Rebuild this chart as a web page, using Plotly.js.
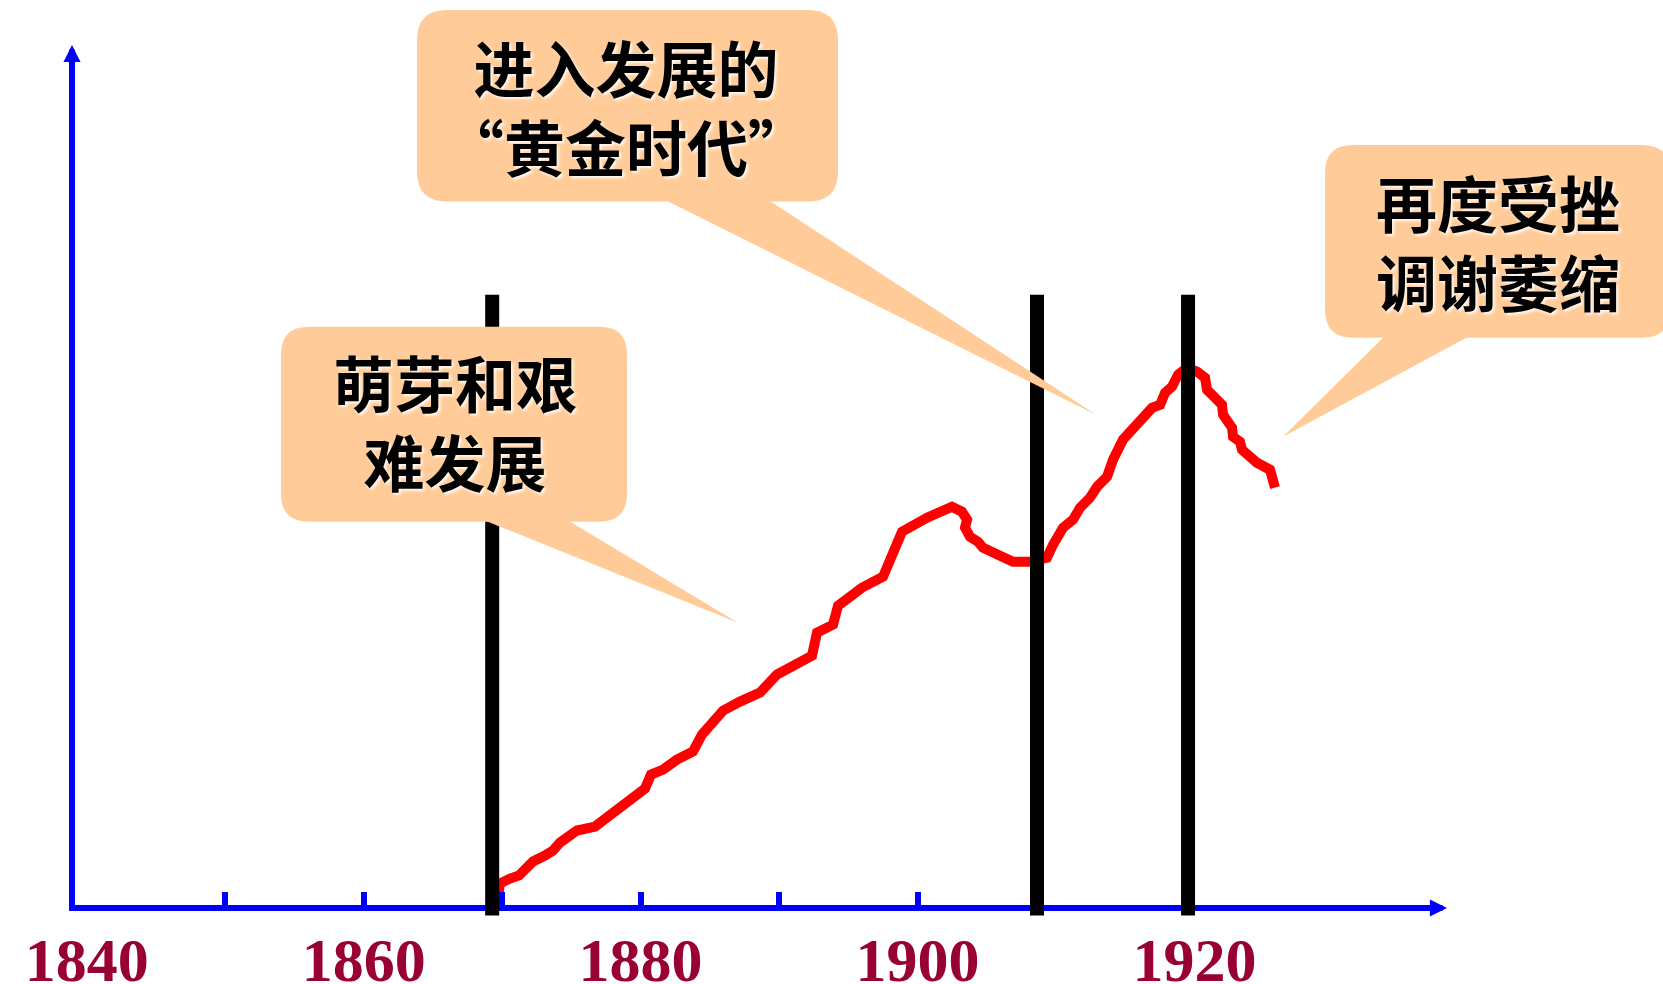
<!DOCTYPE html>
<html>
<head>
<meta charset="utf-8">
<script src="https://cdn.plot.ly/plotly-3.0.1.min.js"></script>
<style>html,body{margin:0;padding:0;background:#fff;}#chart{width:1663px;height:984px;}</style>
</head>
<body>
<div id="chart"></div>
<script>
// ---- data ----
const years = [1869.63,1869.84,1870.57,1871.22,1871.79,1872.23,1873.09,1873.67,1874.18,1874.76,1875.41,1876.71,1877.79,1879.23,1880.32,1880.75,1881.62,1882.63,1883.78,1884.43,1885.95,1887.18,1888.62,1889.85,1891.01,1892.38,1892.74,1893.90,1894.26,1895.12,1895.99,1897.51,1898.01,1898.88,1900.69,1901.62,1902.49,1903.21,1903.58,1903.43,1903.79,1904.37,1904.73,1905.81,1906.90,1908.13,1909.35,1909.79,1910.51,1911.23,1911.74,1912.46,1912.97,1913.69,1914.12,1914.84,1915.71,1916.43,1916.94,1917.52,1917.88,1918.38,1918.82,1919.47,1920.19,1920.77,1920.91,1921.49,1921.99,1922.07,1922.72,1922.79,1923.29,1923.44,1923.87,1924.52,1925.46,1925.61,1925.82];
const level = [0,2.50,3.08,3.43,4.36,5.06,5.75,6.33,7.26,8.08,8.66,9.12,10.52,12.14,13.54,15.17,15.75,16.91,17.84,19.81,22.60,23.65,24.69,26.79,27.95,28.99,31.67,32.60,34.80,35.85,36.90,38.18,40.03,43.40,45.03,45.61,46.31,45.73,44.80,43.87,42.82,42.24,41.55,40.73,39.92,39.92,40.38,41.89,43.87,44.80,46.19,47.36,48.63,49.80,51.77,54.10,55.61,56.65,57.81,58.16,59.56,60.26,61.65,62.46,62.00,61.30,59.91,58.98,58.16,57.00,55.49,54.44,53.86,52.93,52.35,51.42,50.61,49.80,48.52];
const eraBounds = [1869.28, 1908.63, 1919.54];
const labelYears = [1840, 1860, 1880, 1900, 1920];
const tickYears = [1850, 1860, 1870, 1880, 1890, 1900];
const calloutTexts = ['萌芽和艰<br>难发展', '进入发展的<br>“黄金时代”', '再度受挫<br>调谢萎缩'];

// ---- layout geometry (pixels) ----
const W = 1663, H = 984;
const M = {l: 75, r: 231, t: 60, b: 78.5};
const PW = W - M.l - M.r, PH = H - M.t - M.b;
const px = p => (p - M.l) / PW;
const py = p => (H - M.b - p) / PH;

function bubblePath(x0, y0, x1, y1, r, tail) {
  const P = (a, b) => px(a).toFixed(5) + ',' + py(b).toFixed(5);
  let d = 'M' + P(x0 + r, y0) + ' L' + P(x1 - r, y0) + ' Q' + P(x1, y0) + ' ' + P(x1, y0 + r) +
    ' L' + P(x1, y1 - r) + ' Q' + P(x1, y1) + ' ' + P(x1 - r, y1) +
    ' L' + P(x0 + r, y1) + ' Q' + P(x0, y1) + ' ' + P(x0, y1 - r) +
    ' L' + P(x0, y0 + r) + ' Q' + P(x0, y0) + ' ' + P(x0 + r, y0) + ' Z';
  const tri = 'M' + P(tail[0], tail[1]) + ' L' + P(tail[2], tail[3]) + ' L' + P(tail[4], tail[5]) + ' Z';
  return [d, tri];
}

const peach = '#FFCC99';
const bubbles = [
  {box: [281, 327, 627, 522], r: 28, tail: [483, 520, 567, 520, 738, 623], text: [455, 421]},
  {box: [417, 10, 838, 201.5], r: 30, tail: [663, 199, 767, 199, 1096, 415], text: [626, 106]},
  {box: [1325, 145, 1670, 338], r: 28, tail: [1385, 336, 1470, 336, 1283, 437], text: [1498, 241]}
];

const shapes = [];
eraBounds.forEach(x => shapes.push({
  type: 'line', xref: 'x', yref: 'paper', x0: x, x1: x, y0: py(916), y1: py(295),
  line: {color: '#000000', width: 14}, layer: 'above'
}));
bubbles.forEach(b => {
  bubblePath(b.box[0], b.box[1], b.box[2], b.box[3], b.r, b.tail).forEach(d => shapes.push({
    type: 'path', xref: 'paper', yref: 'paper', path: d,
    fillcolor: peach, line: {width: 0}, layer: 'above'
  }));
});

const annotations = bubbles.map((b, i) => ({
  xref: 'paper', yref: 'paper', x: px(b.text[0]), y: py(b.text[1]),
  xanchor: 'center', yanchor: 'middle', showarrow: false, align: 'center',
  text: calloutTexts[i],
  font: {family: '"Noto Sans CJK SC", sans-serif', size: 61, color: '#000000', weight: 700,
         shadow: '2px 2px 3px rgba(255,255,255,0.9)'}
}));
// axis arrowheads
annotations.push({xref: 'paper', yref: 'paper', x: px(1447), y: py(908.5), ax: -30, ay: 0,
  text: '', showarrow: true, arrowhead: 2, arrowsize: 0.57, arrowwidth: 6, arrowcolor: '#0000FF', standoff: 0});
annotations.push({xref: 'paper', yref: 'paper', x: px(72), y: py(45), ax: 0, ay: 30,
  text: '', showarrow: true, arrowhead: 2, arrowsize: 0.57, arrowwidth: 6, arrowcolor: '#0000FF', standoff: 0});

const trace = {
  type: 'scatter', mode: 'lines', x: years, y: level,
  line: {color: '#FF0000', width: 10}, hoverinfo: 'skip'
};

const layout = {
  width: W, height: H, margin: M,
  paper_bgcolor: '#ffffff', plot_bgcolor: '#ffffff', showlegend: false,
  xaxis: {
    range: [1839.148, 1937.16], showgrid: false, zeroline: false,
    showline: true, linecolor: '#0000FF', linewidth: 6,
    tickmode: 'array', tickvals: labelYears, ticktext: labelYears.map(String),
    ticks: 'outside', ticklen: 0, ticklabelstandoff: -4,
    tickfont: {family: '"Liberation Serif", "Times New Roman", serif', size: 62, color: '#990033', weight: 700},
    minor: {tickmode: 'array', tickvals: tickYears, ticks: 'inside', ticklen: 13, tickwidth: 6, tickcolor: '#0000FF', showgrid: false},
    fixedrange: true
  },
  yaxis: {
    range: [0, 98.25], showgrid: false, zeroline: false, showticklabels: false, ticks: '',
    showline: true, linecolor: '#0000FF', linewidth: 6, fixedrange: true
  },
  shapes: shapes,
  annotations: annotations
};

Plotly.newPlot('chart', [trace], layout, {staticPlot: true, displayModeBar: false});
</script>
</body>
</html>
